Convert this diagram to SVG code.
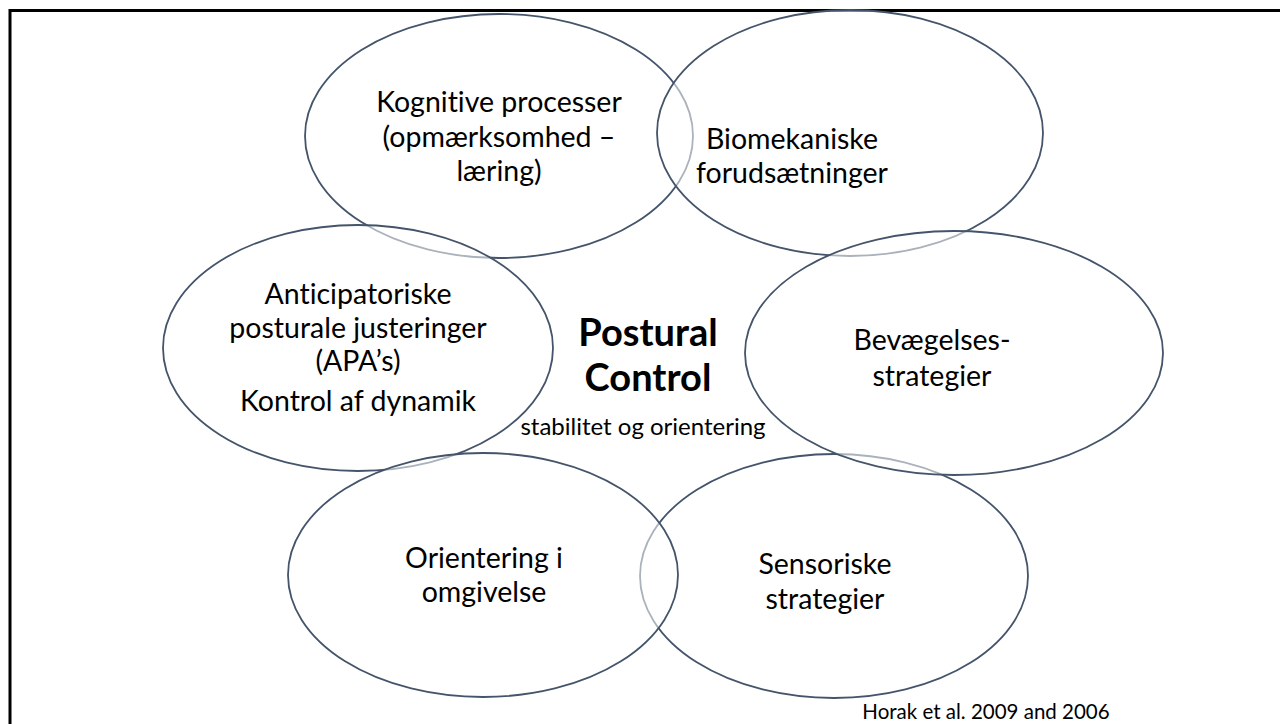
<svg xmlns="http://www.w3.org/2000/svg" width="1280" height="724" viewBox="0 0 1280 724">
<style>
.node ellipse{fill:#ffffff;fill-opacity:0.55;stroke:#44546A;stroke-width:1.8}
text{font-family:Lato,"Liberation Sans",sans-serif;fill:#000;text-anchor:middle;font-variant-ligatures:none;font-feature-settings:"liga" 0}
.lbl{font-size:28.5px}
.title{font-size:38px;font-weight:bold}
.sub{font-size:24px}
.ref{font-size:20.5px}
</style>
<rect width="1280" height="724" fill="#ffffff"/>
<path d="M10,724 V10.5 H1280" fill="none" stroke="#000" stroke-width="3"/>
<g id="connectors"></g>
<g id="n1" class="node"><ellipse cx="499" cy="136" rx="194" ry="122"/>
<text class="lbl" x="499" y="112">Kognitive processer</text>
<text class="lbl" x="499" y="147">(opmærksomhed –</text>
<text class="lbl" x="499" y="181">læring)</text></g>
<g id="n2" class="node"><ellipse cx="850" cy="133" rx="193" ry="123"/>
<text class="lbl" x="792" y="149">Biomekaniske</text>
<text class="lbl" x="792" y="183">forudsætninger</text></g>
<g id="n3" class="node"><ellipse cx="358" cy="348" rx="195" ry="123"/>
<text class="lbl" x="358" y="304">Anticipatoriske</text>
<text class="lbl" x="358" y="338">posturale justeringer</text>
<text class="lbl" x="358" y="371">(APA’s)</text>
<text class="lbl" x="358" y="411">Kontrol af dynamik</text></g>
<g id="n6" class="node"><ellipse cx="834" cy="576" rx="194" ry="122"/>
<text class="lbl" x="825" y="574">Sensoriske</text>
<text class="lbl" x="825" y="609">strategier</text></g>
<g id="n4" class="node"><ellipse cx="954" cy="353" rx="209" ry="122"/>
<text class="lbl" x="932" y="350">Bevægelses-</text>
<text class="lbl" x="932" y="386">strategier</text></g>
<g id="n5" class="node"><ellipse cx="483" cy="575" rx="195" ry="122"/>
<text class="lbl" x="484" y="568">Orientering i</text>
<text class="lbl" x="484" y="602">omgivelse</text></g>
<g id="center">
<text class="title" x="648" y="346">Postural</text>
<text class="title" x="648" y="391">Control</text>
<text class="sub" x="643" y="435">stabilitet og orientering</text>
</g>
<text class="ref" x="986" y="719">Horak et al. 2009 and 2006</text>
</svg>
